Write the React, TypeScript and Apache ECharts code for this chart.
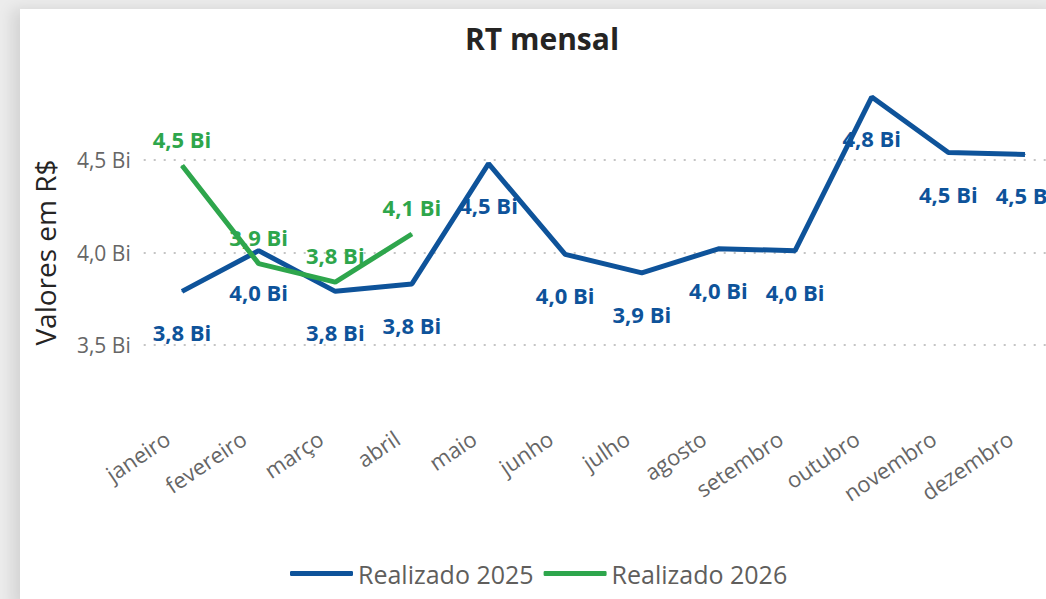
import React, { useEffect, useRef } from "react";
import * as echarts from "echarts";

const months = ["janeiro", "fevereiro", "março", "abril", "maio", "junho", "julho", "agosto", "setembro", "outubro", "novembro", "dezembro"];
const realizado2025 = [3.79, 4.01, 3.79, 3.83, 4.48, 3.99, 3.89, 4.02, 4.01, 4.84, 4.54, 4.53];
const realizado2026 = [4.47, 3.94, 3.84, 4.1];
const yTicks = { min: 3.0, max: 5.0, interval: 0.5 };

const BLUE = "#0E539A";
const GREEN = "#2EA64C";
const FONT = "'Open Sans', sans-serif";

const fmt = (v: number) => v.toFixed(1).replace(".", ",") + " Bi";

export default function App() {
  const ref = useRef<HTMLDivElement>(null);
  useEffect(() => {
    if (!ref.current) return;
    const chart = echarts.init(ref.current, null, { renderer: "svg" });
    chart.setOption({
      animation: false,
      textStyle: { fontFamily: FONT },
      title: {
        text: "RT mensal",
        left: 460,
        top: 18,
        textStyle: { fontSize: 30, fontWeight: "bold", color: "#252423", fontFamily: FONT },
      },
      legend: {
        left: 285,
        top: 556,
        itemWidth: 63,
        itemHeight: 5,
        itemGap: 10,
        icon: "roundRect",
        textStyle: { fontSize: 25, color: "#605E5C", fontFamily: FONT },
        data: ["Realizado 2025", "Realizado 2026"],
      },
      grid: {
        left: 143.7,
        right: -17.3,
        top: 67.5,
        bottom: 161.5,
        containLabel: false,
        outerBoundsMode: "none",
      },
      xAxis: {
        type: "category",
        data: months,
        boundaryGap: true,
        axisLine: { show: false },
        axisTick: { show: false },
        axisLabel: {
          rotate: 34,
          fontSize: 22,
          color: "#666666",
          margin: -12,
          padding: [0, 18, 0, 0],
          fontFamily: FONT,
          interval: 0,
        },
        splitLine: { show: false },
      },
      yAxis: {
        type: "value",
        min: yTicks.min,
        max: yTicks.max,
        interval: yTicks.interval,
        name: "Valores em R$",
        nameLocation: "middle",
        nameGap: 85,
        nameTextStyle: { fontSize: 28, color: "#252423", fontFamily: FONT },
        axisLine: { show: false },
        axisTick: { show: false },
        axisLabel: {
          formatter: (v: number) => fmt(v),
          fontSize: 21,
          color: "#666666",
          margin: 13,
          showMinLabel: false,
          showMaxLabel: false,
          fontFamily: FONT,
        },
        splitLine: {
          show: true,
          showMinLine: false,
          showMaxLine: false,
          lineStyle: { type: [2, 8], color: "#c4c4c4", width: 2 },
        },
      },
      series: [
        {
          name: "Realizado 2025",
          type: "line",
          data: realizado2025,
          symbol: "circle",
          symbolSize: 1,
          showSymbol: true,
          lineStyle: { color: BLUE, width: 5 },
          itemStyle: { color: BLUE },
          z: 2,
          label: {
            show: true,
            position: "inside",
            offset: [0, 41],
            formatter: (p: any) => fmt(p.value),
            fontSize: 22,
            fontWeight: "bold",
            color: BLUE,
            fontFamily: FONT,
          },
        },
        {
          name: "Realizado 2026",
          type: "line",
          data: realizado2026,
          symbol: "circle",
          symbolSize: 1,
          showSymbol: true,
          lineStyle: { color: GREEN, width: 5 },
          itemStyle: { color: GREEN },
          z: 3,
          label: {
            show: true,
            position: "inside",
            offset: [0, -27],
            formatter: (p: any) => fmt(p.value),
            fontSize: 22,
            fontWeight: "bold",
            color: GREEN,
            fontFamily: FONT,
          },
        },
      ],
    });
    return () => chart.dispose();
  }, []);

  return (
    <div style={{ position: "fixed", left: 0, top: 0, width: 1046, height: 599, background: "#ececec", overflow: "hidden" }}>
      <div
        style={{
          position: "absolute",
          left: 20,
          top: 9,
          width: 1040,
          height: 600,
          background: "#ffffff",
          boxShadow: "-8px 0 14px rgba(0,0,0,0.10)",
        }}
      />
      <div ref={ref} style={{ position: "absolute", left: 0, top: 0, width: 1046, height: 599 }} />
    </div>
  );
}
